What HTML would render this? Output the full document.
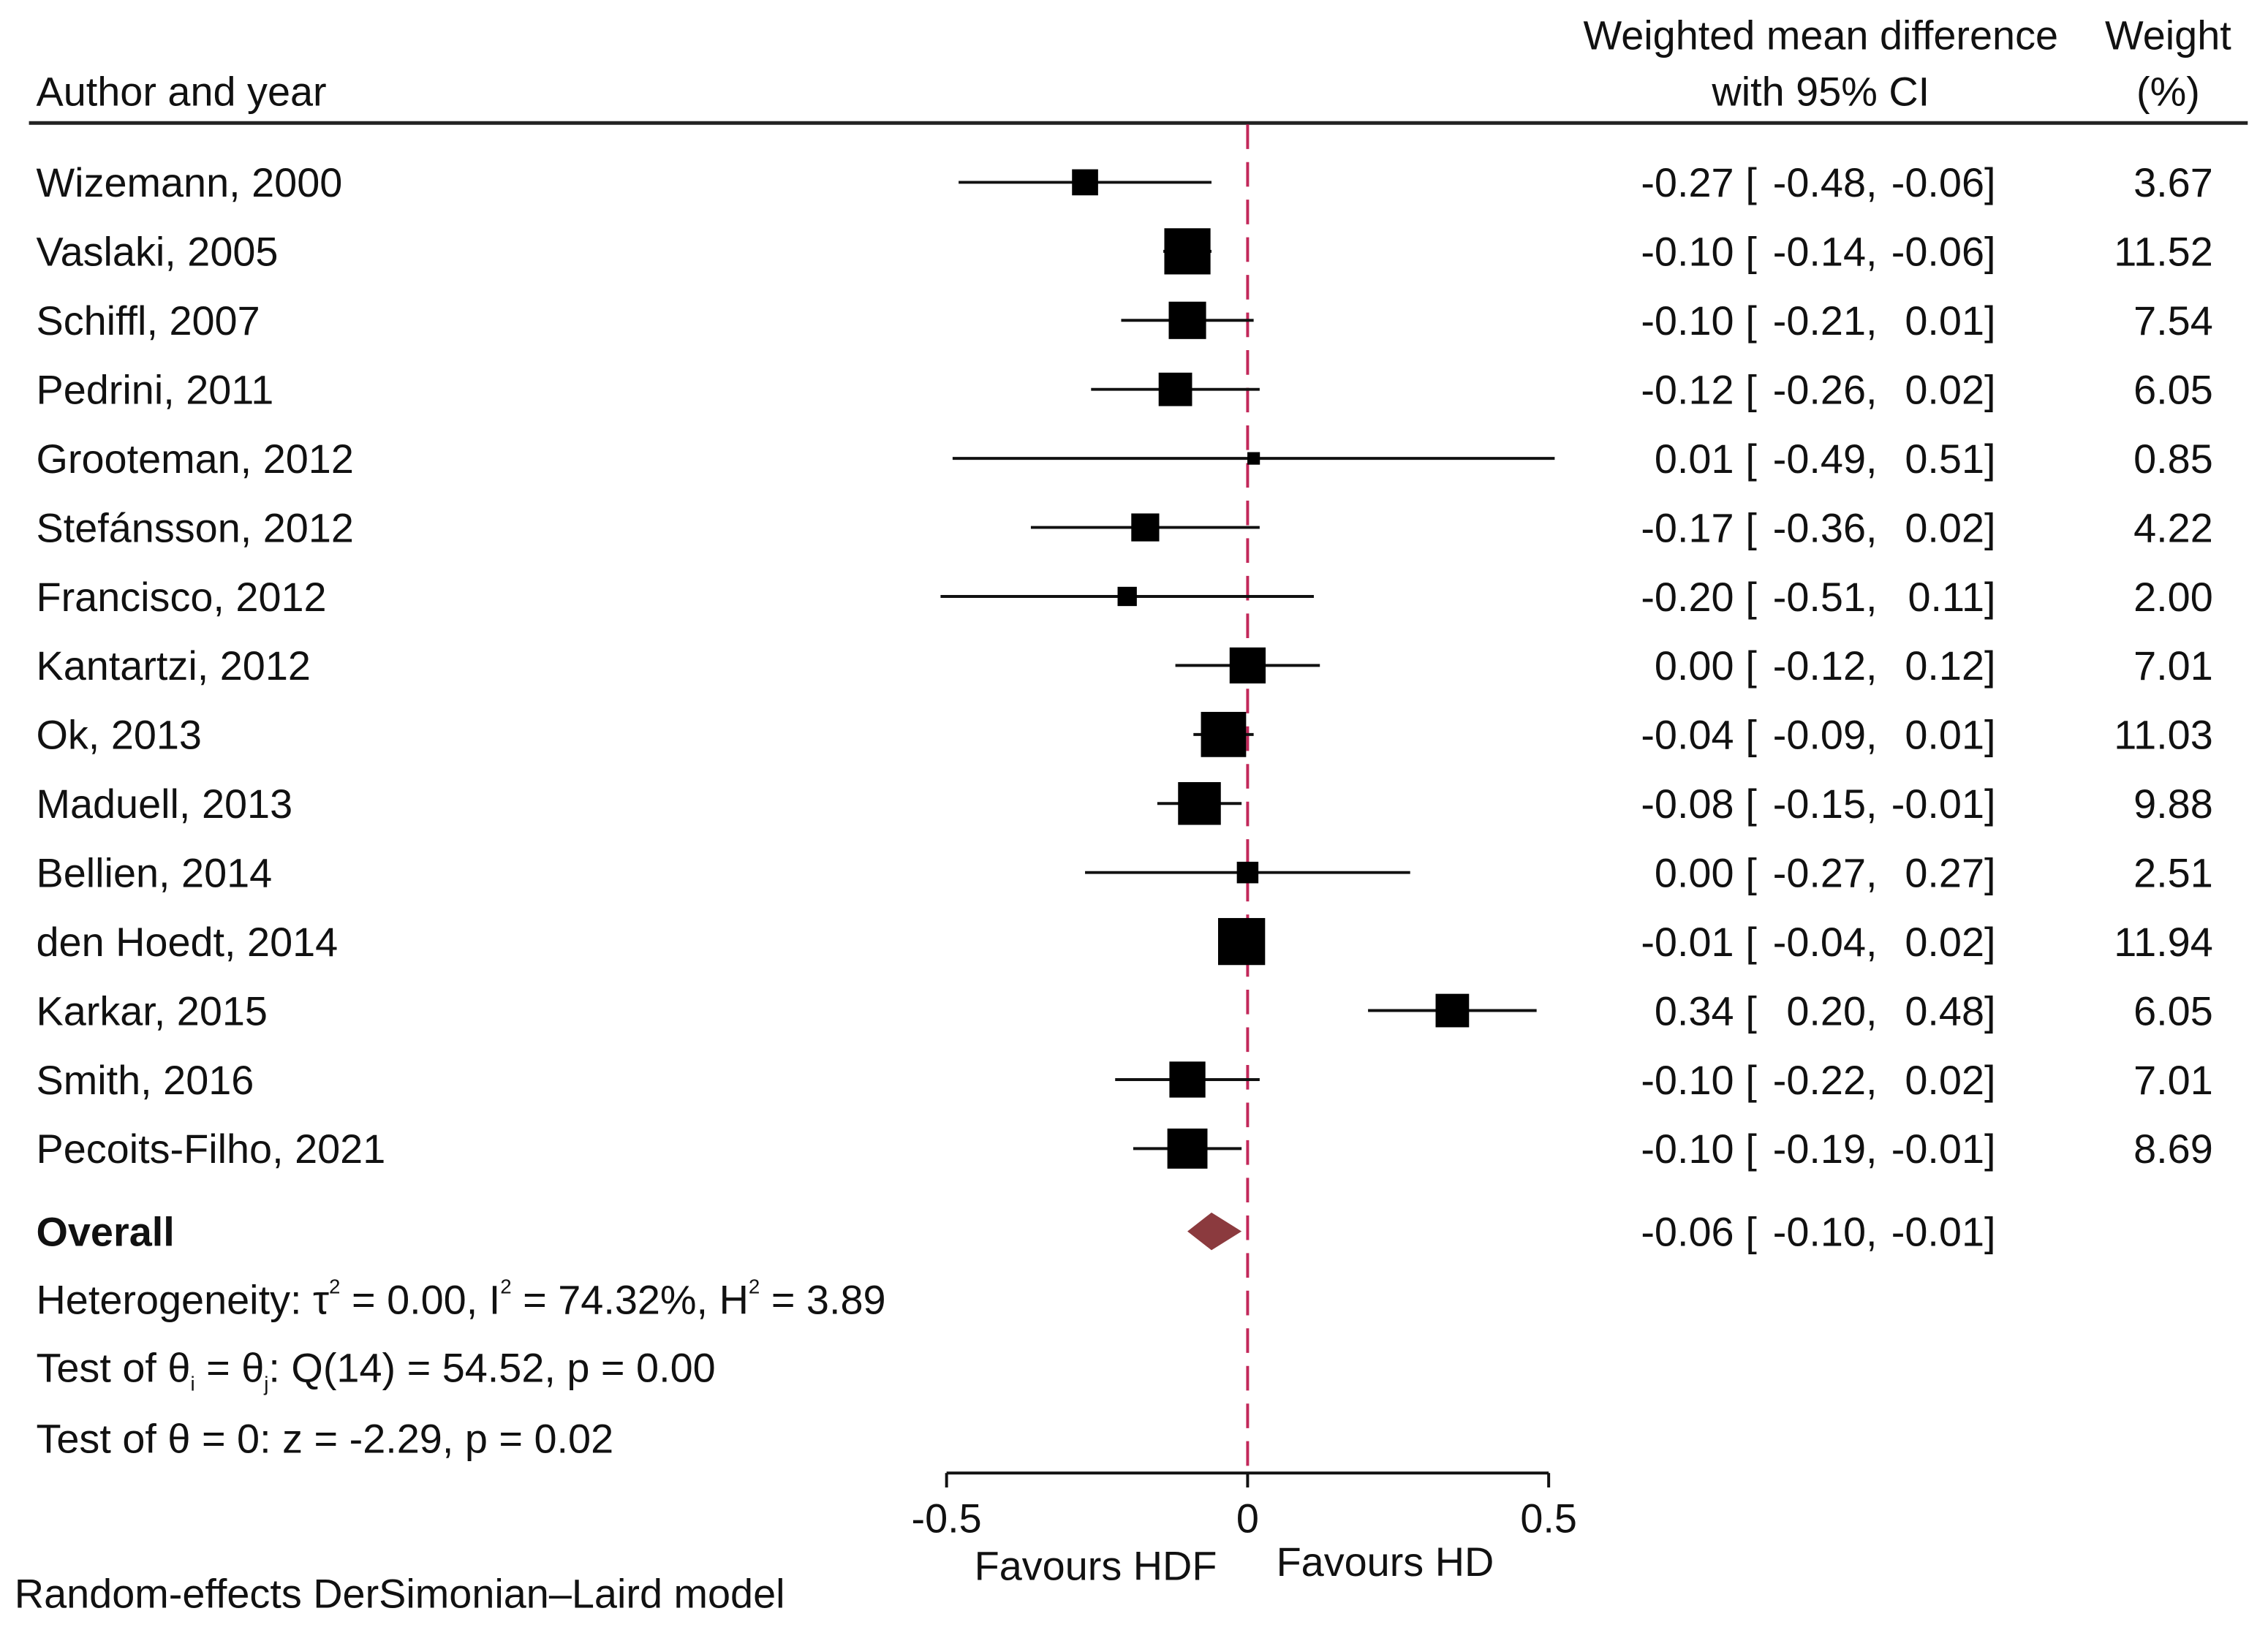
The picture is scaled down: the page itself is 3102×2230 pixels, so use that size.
<!DOCTYPE html>
<html><head><meta charset="utf-8"><style>
html,body{margin:0;padding:0;background:#fff;}
svg{display:block;}
text{font-family:"Liberation Sans",Arial,sans-serif;font-size:28.2px;fill:#111;}
</style></head><body>
<svg id="chart" width="3102" height="2230" viewBox="0 0 1567 1126.5" xmlns="http://www.w3.org/2000/svg">
<text x="25" y="73">Author and year</text>
<text x="1258" y="34" text-anchor="middle">Weighted mean difference</text>
<text x="1258" y="73" text-anchor="middle">with 95% CI</text>
<text x="1498" y="34" text-anchor="middle">Weight</text>
<text x="1498" y="73" text-anchor="middle">(%)</text>
<line x1="20" y1="85" x2="1553" y2="85" stroke="#222" stroke-width="2.5"/>
<g id="marks"></g>
<text x="25" y="861" font-weight="bold">Overall</text>
<text x="25" y="908">Heterogeneity: τ<tspan font-size="14" dy="-14">2</tspan><tspan dy="14"> = 0.00, I</tspan><tspan font-size="14" dy="-14">2</tspan><tspan dy="14"> = 74.32%, H</tspan><tspan font-size="14" dy="-14">2</tspan><tspan dy="14"> = 3.89</tspan></text>
<text x="25" y="955">Test of θ<tspan font-size="14" dy="6">i</tspan><tspan dy="-6"> = θ</tspan><tspan font-size="14" dy="6">j</tspan><tspan dy="-6">: Q(14) = 54.52, p = 0.00</tspan></text>
<text x="25" y="1004">Test of θ = 0: z = -2.29, p = 0.02</text>
<text x="757" y="1092" text-anchor="middle" font-size="22.5">Favours HDF</text>
<text x="957" y="1089" text-anchor="middle" font-size="22.5">Favours HD</text>
<text x="10" y="1111">Random-effects DerSimonian–Laird model</text>
</svg>
<script>
const studies = ["Wizemann, 2000","Vaslaki, 2005","Schiffl, 2007","Pedrini, 2011","Grooteman, 2012","Stefánsson, 2012","Francisco, 2012","Kantartzi, 2012","Ok, 2013","Maduell, 2013","Bellien, 2014","den Hoedt, 2014","Karkar, 2015","Smith, 2016","Pecoits-Filho, 2021"];
const est = [-0.27,-0.10,-0.10,-0.12,0.01,-0.17,-0.20,0.00,-0.04,-0.08,0.00,-0.01,0.34,-0.10,-0.10];
const lower = [-0.48,-0.14,-0.21,-0.26,-0.49,-0.36,-0.51,-0.12,-0.09,-0.15,-0.27,-0.04,0.20,-0.22,-0.19];
const upper = [-0.06,-0.06,0.01,0.02,0.51,0.02,0.11,0.12,0.01,-0.01,0.27,0.02,0.48,0.02,-0.01];
const weights = [3.67,11.52,7.54,6.05,0.85,4.22,2.00,7.01,11.03,9.88,2.51,11.94,6.05,7.01,8.69];
const overall = [-0.06,-0.10,-0.01];
const ticks = [-0.5,0,0.5];
const tickLabels = ["-0.5","0","0.5"];

const NS="http://www.w3.org/2000/svg";
const g=document.getElementById('marks');
const xs=v=>862+v*416;
const ys=i=>126+i*47.7;
const yOverall=851, axisY=1018;
const f=v=>v.toFixed(2);
function mk(tag,attrs,parent,txt){const e=document.createElementNS(NS,tag);for(const k in attrs)e.setAttribute(k,attrs[k]);if(txt!==undefined)e.textContent=txt;(parent||g).appendChild(e);return e;}

const ref=mk('line',{x1:xs(0),y1:86,x2:xs(0),y2:axisY,stroke:'#c2285a','stroke-width':2,'stroke-dasharray':'17,9'});



function ciText(y,e,l,u,pre){
  const t1=mk('text',{x:1198,y:y+10,'text-anchor':'end'},g,f(e));
  
  
  const t2=mk('text',{x:1206,y:y+10},g,'[');
  
  
  const t3=mk('text',{x:1297,y:y+10,'text-anchor':'end'},g,f(l)+',');
  
  
  const t4=mk('text',{x:1371,y:y+10,'text-anchor':'end'},g,f(u));
  
  
  const t5=mk('text',{x:1371,y:y+10},g,']');
  
  
}

studies.forEach((s,i)=>{
  const y=ys(i);
  const lab=mk('text',{x:25,y:y+10},g,s);
  
  
  const ci=mk('line',{x1:xs(lower[i]),y1:y,x2:xs(upper[i]),y2:y,stroke:'#111','stroke-width':2});
  
  
  const side=9.4*Math.sqrt(weights[i]);
  const b=mk('rect',{x:xs(est[i])-side/2,y:y-side/2,width:side,height:side,fill:'#000'});
  
  
  ciText(y,est[i],lower[i],upper[i],'study');
  const w=mk('text',{x:1529,y:y+10,'text-anchor':'end'},g,weights[i].toFixed(2));
  
  
});

const dia=mk('polygon',{points:`${xs(overall[1])},${yOverall} ${xs(overall[0])},${yOverall-13} ${xs(overall[2])},${yOverall} ${xs(overall[0])},${yOverall+13}`,fill:'#8b3a3e'});


ciText(yOverall,overall[0],overall[1],overall[2],'overall');

const ax=mk('line',{x1:xs(ticks[0]),y1:axisY,x2:xs(ticks[ticks.length-1]),y2:axisY,stroke:'#111','stroke-width':2});


ticks.forEach((t,i)=>{
  const tk=mk('line',{x1:xs(t),y1:axisY,x2:xs(t),y2:axisY+10,stroke:'#111','stroke-width':2});
  
  
  const tl=mk('text',{x:xs(t),y:1059,'text-anchor':'middle'},g,tickLabels[i]);
  
  
});
</script>
</body></html>
